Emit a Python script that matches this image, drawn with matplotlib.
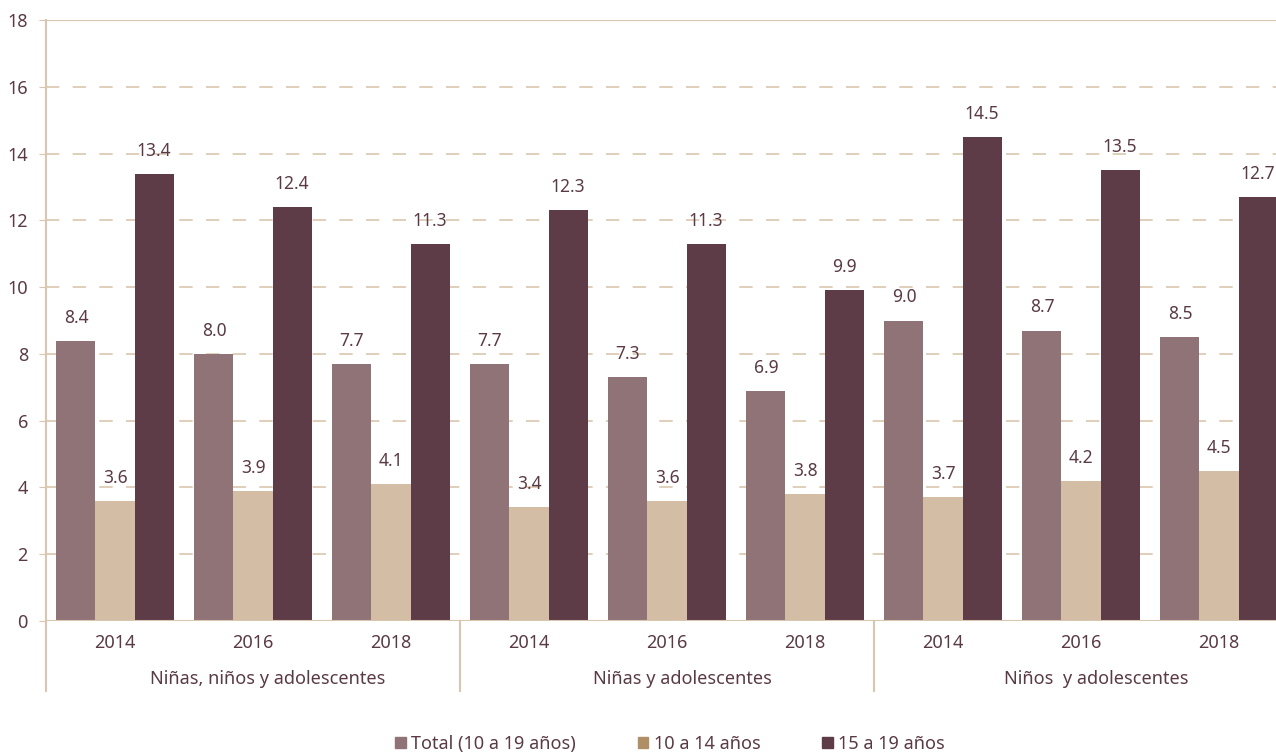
import matplotlib.pyplot as plt
import numpy as np

plt.rcParams['font.family'] = ['Noto Sans', 'DejaVu Sans']

grupos = ['Niñas, niños y adolescentes', 'Niñas y adolescentes', 'Niños  y adolescentes']
anios = ['2014', '2016', '2018']
total = [8.4, 8.0, 7.7, 7.7, 7.3, 6.9, 9.0, 8.7, 8.5]
edad_10_14 = [3.6, 3.9, 4.1, 3.4, 3.6, 3.8, 3.7, 4.2, 4.5]
edad_15_19 = [13.4, 12.4, 11.3, 12.3, 11.3, 9.9, 14.5, 13.5, 12.7]
series = ['Total (10 a 19 años)', '10 a 14 años', '15 a 19 años']

c_total = '#8f7377'
c_claro = '#d3bda5'
c_oscuro = '#5e3c47'
c_linea = '#d9c6ae'
c_texto = '#5a3a44'

fig = plt.figure(figsize=(12.76, 7.53), dpi=100)
ax = fig.add_axes([46 / 1276, 1 - 621 / 753, 1230 / 1276, 601 / 753])

x = np.arange(len(total))
w = 0.283
for off, vals, col in [(-w, total, c_total), (0, edad_10_14, c_claro), (w, edad_15_19, c_oscuro)]:
    bars = ax.bar(x + off, vals, w, color=col, zorder=3)
    for b, v in zip(bars, vals):
        ax.text(b.get_x() + b.get_width() / 2, v + 0.42, f'{v:.1f}', ha='center', va='bottom',
                fontsize=12.5, color=c_texto, zorder=4)

ax.set_ylim(0, 18)
ax.set_xlim(-0.5, 8.5 - 12 / 138)
ax.set_yticks(range(0, 19, 2))
ax.tick_params(axis='y', length=5, color=c_linea, labelsize=13, labelcolor=c_texto, pad=8)
ax.set_xticks([])
for y in range(2, 18, 2):
    ax.axhline(y, color=c_linea, lw=1.2, ls=(0, (8, 8)), zorder=1)
ax.axhline(18, color=c_linea, lw=1.5, zorder=1)

for s in ['top', 'right', 'bottom']:
    ax.spines[s].set_visible(False)
ax.spines['left'].set_color(c_linea)
ax.spines['left'].set_linewidth(1.5)
ax.axhline(0, color=c_linea, lw=1.5, zorder=4)

# etiquetas de años y de grupos debajo del eje
for i in x:
    ax.text(i, -0.65, anios[i % 3], ha='center', va='center', fontsize=13, color=c_texto)
for g, nombre in enumerate(grupos):
    ax.text(3 * g + 1.11, -1.75, nombre, ha='center', va='center', fontsize=13, color=c_texto)
for sep in [-0.5, 2.5, 5.5]:
    ax.plot([sep, sep], [0, -2.1], color=c_linea, lw=1.5, clip_on=False)

# leyenda
handles = [plt.Rectangle((0, 0), 1, 1, color=c) for c in [c_total, '#b08f66', c_oscuro]]
fig.legend(handles, series, loc='center', bbox_to_anchor=(670 / 1276, 1 - 744 / 753), ncol=3,
           frameon=False, fontsize=13, handlelength=0.6, handleheight=0.6, handletextpad=0.3,
           columnspacing=3.4, labelcolor=c_texto)

fig.savefig('out.png', dpi=100)
